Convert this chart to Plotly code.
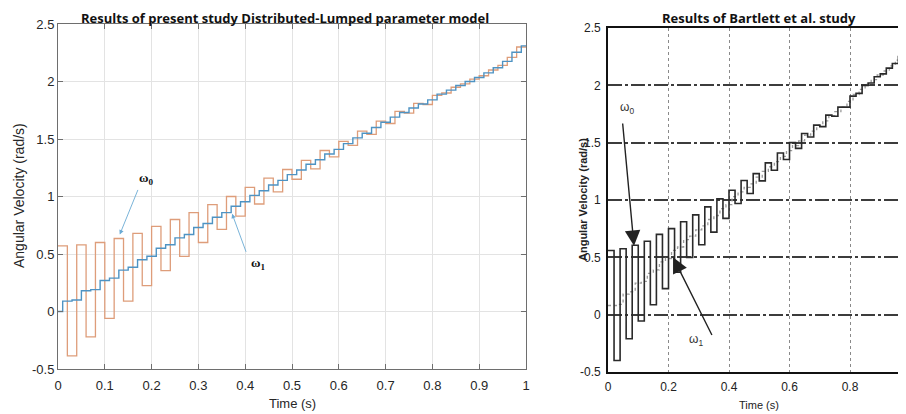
import plotly.graph_objects as go

# ---------------- data ----------------
# Present study (left panel): omega0 held over 0.02 s intervals
t_w0 = [round(k * 0.02, 2) for k in range(51)]
w0_present = [0.57, -0.385, 0.58, -0.22, 0.60, -0.06, 0.635, 0.09, 0.68, 0.225,
              0.74, 0.355, 0.80, 0.48, 0.86, 0.60, 0.93, 0.715, 1.00, 0.83,
              1.08, 0.935, 1.16, 1.04, 1.235, 1.15, 1.315, 1.24, 1.40, 1.345,
              1.48, 1.445, 1.568, 1.54, 1.655, 1.635, 1.74, 1.725, 1.81, 1.80,
              1.88, 1.90, 1.95, 1.98, 2.02, 2.05, 2.10, 2.14, 2.21, 2.30]
# omega1 switches half an interval later
t_w1 = [0.0] + [round(0.01 + 0.02 * k, 2) for k in range(50)] + [1.0]
w1_present = [0.0, 0.09, 0.10, 0.18, 0.19, 0.27, 0.29, 0.36, 0.385, 0.45,
              0.48, 0.55, 0.58, 0.64, 0.67, 0.73, 0.765, 0.82, 0.86, 0.915,
              0.955, 1.01, 1.05, 1.10, 1.14, 1.19, 1.23, 1.28, 1.32, 1.37,
              1.41, 1.46, 1.51, 1.55, 1.60, 1.645, 1.69, 1.73, 1.77, 1.805,
              1.84, 1.89, 1.925, 1.965, 2.00, 2.035, 2.075, 2.12, 2.175, 2.255,
              2.31]

# Bartlett et al. (right panel)
w0_bartlett = [0.56, -0.40, 0.575, -0.21, 0.605, -0.055, 0.64, 0.087, 0.70, 0.227,
               0.75, 0.37, 0.81, 0.50, 0.87, 0.61, 0.94, 0.72, 1.01, 0.84,
               1.085, 0.97, 1.17, 1.057, 1.23, 1.167, 1.324, 1.26, 1.41, 1.353,
               1.50, 1.45, 1.58, 1.55, 1.653, 1.64, 1.74, 1.73, 1.81, 1.81,
               1.906, 1.93, 2.00, 2.02, 2.075, 2.10, 2.15, 2.19, 2.25, 2.285]
w1_bartlett = [0.08, 0.08, 0.09, 0.18, 0.20, 0.275, 0.29, 0.36, 0.39, 0.46,
               0.49, 0.56, 0.59, 0.655, 0.685, 0.74, 0.775, 0.83, 0.865, 0.925,
               0.96, 1.03, 1.07, 1.11, 1.14, 1.20, 1.25, 1.29, 1.335, 1.38,
               1.43, 1.475, 1.515, 1.565, 1.60, 1.65, 1.69, 1.735, 1.77, 1.81,
               1.86, 1.92, 1.965, 2.01, 2.05, 2.09, 2.125, 2.17, 2.22, 2.27,
               2.30]

y_ticks = [-0.5, 0, 0.5, 1, 1.5, 2, 2.5]
y_tick_text = ["-0.5", "0", "0.5", "1", "1.5", "2", "2.5"]
x_ticks_left = [0, 0.1, 0.2, 0.3, 0.4, 0.5, 0.6, 0.7, 0.8, 0.9, 1]
x_ticks_left_text = ["0", "0.1", "0.2", "0.3", "0.4", "0.5", "0.6", "0.7", "0.8", "0.9", "1"]
x_ticks_right = [0, 0.2, 0.4, 0.6, 0.8]
x_ticks_right_text = ["0", "0.2", "0.4", "0.6", "0.8"]

# The figure div sits inside the page's default 8px body margin,
# so page pixel positions are converted to figure positions first.
OFF = 8
W, H = 906, 414
def px(x):
    return min(1.0, max(0.0, (x - OFF) / W))
def py(y):
    return min(1.0, max(0.0, 1 - (y - OFF) / H))

ORANGE = "#DE9D7A"
BLUE = "#4E93C3"

fig = go.Figure()

# ---- left panel ----
fig.add_trace(go.Scatter(x=t_w0, y=w0_present + [w0_present[-1]], mode="lines",
                         line=dict(color=ORANGE, width=1.3, shape="hv"),
                         xaxis="x", yaxis="y", showlegend=False, hoverinfo="skip"))
fig.add_trace(go.Scatter(x=t_w1, y=w1_present + [w1_present[-1]], mode="lines",
                         line=dict(color=BLUE, width=1.4, shape="hv"),
                         xaxis="x", yaxis="y", showlegend=False, hoverinfo="skip"))

# ---- right panel ----
fig.add_trace(go.Scatter(x=t_w1, y=w1_bartlett + [w1_bartlett[-1]], mode="lines",
                         line=dict(color="#9a9a9a", width=1.3, shape="hv", dash="dot"),
                         xaxis="x2", yaxis="y2", showlegend=False, hoverinfo="skip"))
fig.add_trace(go.Scatter(x=t_w0, y=w0_bartlett + [w0_bartlett[-1]], mode="lines",
                         line=dict(color="#2a2a2a", width=1.6, shape="hv"),
                         xaxis="x2", yaxis="y2", showlegend=False, hoverinfo="skip"))

tickfont_l = dict(family="Liberation Sans, Arial, sans-serif", size=13, color="#262626")
tickfont_r = dict(family="Liberation Sans, Arial, sans-serif", size=12, color="#222")

# right panel x-range: x=0 at page 608px, 302.5 px per second; runs past the window edge
r_end = (OFF + W - 608) / 302.5

fig.update_layout(
    template="none",
    width=W, height=H,
    margin=dict(l=0, r=0, t=0, b=0, pad=0),
    paper_bgcolor="white", plot_bgcolor="white",
    xaxis=dict(domain=[px(58), px(526)], range=[0, 1], tickvals=x_ticks_left,
               ticktext=x_ticks_left_text, showgrid=True, gridcolor="#e3e3e3",
               zeroline=False, showline=True, linecolor="#6e6e6e", linewidth=1,
               mirror="allticks", ticks="inside", ticklen=5, tickcolor="#6e6e6e",
               tickfont=tickfont_l, anchor="y", ticklabelstandoff=4, automargin=False),
    yaxis=dict(domain=[py(369), py(24)], range=[-0.5, 2.5], tickvals=y_ticks,
               ticktext=y_tick_text, showgrid=True, gridcolor="#e3e3e3",
               zeroline=False, showline=True, linecolor="#6e6e6e", linewidth=1,
               mirror="allticks", ticks="inside", ticklen=5, tickcolor="#6e6e6e",
               tickfont=tickfont_l, anchor="x", automargin=False),
    xaxis2=dict(domain=[px(608), 1.0], range=[0, r_end], tickvals=x_ticks_right,
                ticktext=x_ticks_right_text, showgrid=True, gridcolor="#8a8a8a",
                griddash="dot", gridwidth=1, zeroline=False, showline=True,
                linecolor="#111", linewidth=1.6, mirror=True, ticks="",
                tickfont=tickfont_r, anchor="y2", ticklabelstandoff=3, automargin=False),
    yaxis2=dict(domain=[py(372), py(28)], range=[-0.5, 2.5], tickvals=y_ticks,
                ticktext=y_tick_text, showgrid=True, gridcolor="#3c3c3c",
                griddash="14px,3px,3px,3px", gridwidth=1.5, zeroline=False,
                showline=True, linecolor="#111", linewidth=1.6, ticks="",
                tickfont=tickfont_r, anchor="x2", ticklabelstandoff=3, automargin=False),
)

ann = []
# titles (anchored to the top edge of the figure so they are not clipped)
ann.append(dict(text="<b>Results of present study Distributed-Lumped parameter model</b>",
                x=px(285), y=1.0, xref="paper", yref="paper", showarrow=False,
                font=dict(family="Open Sans, sans-serif", size=13, color="#111"),
                xanchor="center", yanchor="top", borderpad=0))
ann.append(dict(text="<b>Results of Bartlett et al. study</b>",
                x=px(759), y=1.0, xref="paper", yref="paper", showarrow=False,
                font=dict(family="Open Sans, sans-serif", size=13, color="#111"),
                xanchor="center", yanchor="top", borderpad=0))
# axis titles
ann.append(dict(text="Angular Velocity (rad/s)", x=px(19), y=py(196), xref="paper",
                yref="paper", showarrow=False, textangle=-90,
                font=dict(family="Liberation Sans, Arial, sans-serif", size=14, color="#262626"),
                xanchor="center", yanchor="middle"))
ann.append(dict(text="Time (s)", x=px(292), y=py(403), xref="paper", yref="paper",
                showarrow=False,
                font=dict(family="Liberation Sans, Arial, sans-serif", size=13, color="#262626"),
                xanchor="center", yanchor="middle"))
ann.append(dict(text="<b>Angular Velocity (rad/s)</b>", x=px(583), y=py(200), xref="paper",
                yref="paper", showarrow=False, textangle=-90,
                font=dict(family="Liberation Sans, Arial, sans-serif", size=11, color="#222"),
                xanchor="center", yanchor="middle"))
ann.append(dict(text="Time (s)", x=px(759), y=py(405), xref="paper", yref="paper",
                showarrow=False,
                font=dict(family="Liberation Sans, Arial, sans-serif", size=11, color="#222"),
                xanchor="center", yanchor="middle"))

# left panel labels and arrows
serif = "Liberation Serif, Times New Roman, serif"
ann.append(dict(text="<b>ω<sub>0</sub></b>", x=0.19, y=1.155, xref="x", yref="y",
                showarrow=False, font=dict(family=serif, size=13, color="#111")))
ann.append(dict(text="<b>ω<sub>1</sub></b>", x=0.428, y=0.42, xref="x", yref="y",
                showarrow=False, font=dict(family=serif, size=13, color="#111")))
ann.append(dict(text="", x=0.132, y=0.67, ax=0.172, ay=1.07, xref="x", yref="y",
                axref="x", ayref="y", showarrow=True, arrowhead=2, arrowsize=1,
                arrowwidth=0.9, arrowcolor="#6aaad4"))
ann.append(dict(text="", x=0.372, y=0.85, ax=0.403, ay=0.506, xref="x", yref="y",
                axref="x", ayref="y", showarrow=True, arrowhead=2, arrowsize=1,
                arrowwidth=0.9, arrowcolor="#6aaad4"))

# right panel labels and arrows
ann.append(dict(text="ω<sub>0</sub>", x=0.062, y=1.80, xref="x2", yref="y2",
                showarrow=False, font=dict(family="Liberation Sans, Arial, sans-serif", size=12, color="#333")))
ann.append(dict(text="ω<sub>1</sub>", x=0.29, y=-0.22, xref="x2", yref="y2",
                showarrow=False, font=dict(family="Liberation Sans, Arial, sans-serif", size=12, color="#333")))
ann.append(dict(text="", x=0.086, y=0.60, ax=0.048, ay=1.68, xref="x2", yref="y2",
                axref="x2", ayref="y2", showarrow=True, arrowhead=2, arrowsize=2.2,
                arrowwidth=1.4, arrowcolor="#222"))
ann.append(dict(text="", x=0.215, y=0.50, ax=0.346, ay=-0.19, xref="x2", yref="y2",
                axref="x2", ayref="y2", showarrow=True, arrowhead=2, arrowsize=2.2,
                arrowwidth=1.4, arrowcolor="#222"))

fig.update_layout(annotations=ann)
fig.write_html("out.html")
